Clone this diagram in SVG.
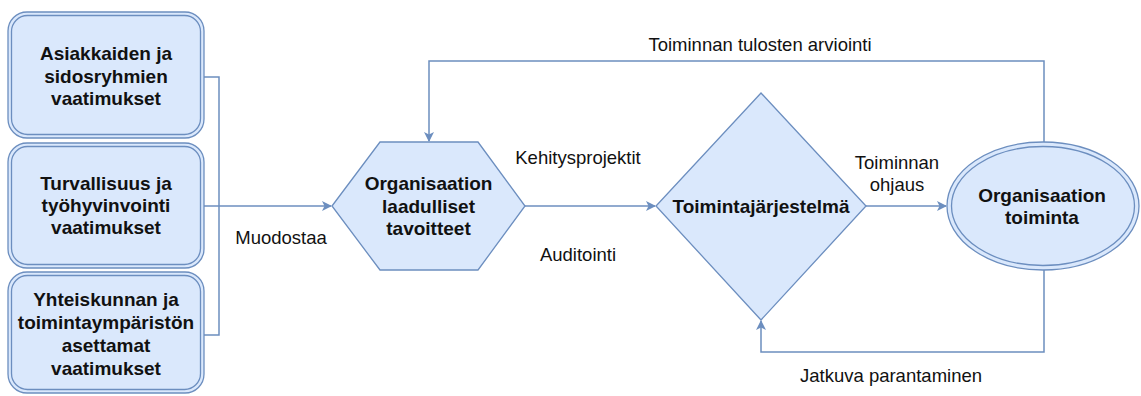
<svg xmlns="http://www.w3.org/2000/svg" width="1141" height="396" viewBox="0 0 1141 396">
  <defs>
    <marker id="arrow" viewBox="0 0 10 10" refX="9" refY="5" markerWidth="10" markerHeight="10" markerUnits="userSpaceOnUse" orient="auto">
      <path d="M0,0 L10,5 L0,10 L2.5,5 Z" fill="#6c8ebf"/>
    </marker>
  </defs>
  <style>
    .shape { fill: #dae8fc; stroke: #6c8ebf; stroke-width: 1.3; }
    .inner { fill: none; stroke: #6c8ebf; stroke-width: 1.3; }
    .edge { fill: none; stroke: #6c8ebf; stroke-width: 1.5; }
    .title { font-family: "Liberation Sans", Arial, sans-serif; font-size: 19px; font-weight: bold; fill: #111; text-anchor: middle; dominant-baseline: central; }
    .label { font-family: "Liberation Sans", Arial, sans-serif; font-size: 18.5px; fill: #111; text-anchor: middle; dominant-baseline: central; }
  </style>

  <rect width="1141" height="396" fill="#ffffff"/>

  <!-- connectors -->
  <g id="connectors">
    <polyline class="edge" points="204,77 219,77 219,335 204,335"/>
    <line class="edge" x1="204" y1="206" x2="219" y2="206"/>
    <line class="edge" x1="219" y1="206" x2="331" y2="206" marker-end="url(#arrow)"/>
    <line class="edge" x1="525" y1="206" x2="655" y2="206" marker-end="url(#arrow)"/>
    <line class="edge" x1="866" y1="206" x2="946" y2="206" marker-end="url(#arrow)"/>
    <polyline class="edge" points="1044,142 1044,61 429,61 429,141" marker-end="url(#arrow)"/>
    <polyline class="edge" points="1044,270 1044,352 761,352 761,321" marker-end="url(#arrow)"/>
  </g>

  <!-- connector labels -->
  <g id="edge-labels">
    <text class="label" x="281" y="237">Muodostaa</text>
    <text class="label" x="578" y="157">Kehitysprojektit</text>
    <text class="label" x="578" y="254">Auditointi</text>
    <text class="label" x="897" y="162">Toiminnan</text>
    <text class="label" x="897" y="184">ohjaus</text>
    <text class="label" x="760" y="44">Toiminnan tulosten arviointi</text>
    <text class="label" x="891" y="375">Jatkuva parantaminen</text>
  </g>

  <!-- requirement sources -->
  <g id="node-asiakkaat">
    <rect class="shape" x="8" y="12" width="196" height="126" rx="19"/>
    <rect class="inner" x="11.5" y="15.5" width="189" height="119" rx="16"/>
    <text class="title" x="106" y="53">Asiakkaiden ja</text>
    <text class="title" x="106" y="76">sidosryhmien</text>
    <text class="title" x="106" y="98">vaatimukset</text>
  </g>

  <g id="node-turvallisuus">
    <rect class="shape" x="8" y="143" width="196" height="125" rx="19"/>
    <rect class="inner" x="11.5" y="146.5" width="189" height="118" rx="16"/>
    <text class="title" x="106" y="183">Turvallisuus ja</text>
    <text class="title" x="106" y="205">työhyvinvointi</text>
    <text class="title" x="106" y="227">vaatimukset</text>
  </g>

  <g id="node-yhteiskunta">
    <rect class="shape" x="8" y="272" width="196" height="121" rx="19"/>
    <rect class="inner" x="11.5" y="275.5" width="189" height="114" rx="16"/>
    <text class="title" x="106" y="299">Yhteiskunnan ja</text>
    <text class="title" x="106" y="322">toimintaympäristön</text>
    <text class="title" x="106" y="345">asettamat</text>
    <text class="title" x="106" y="368">vaatimukset</text>
  </g>

  <!-- quality objectives -->
  <g id="node-tavoitteet">
    <polygon class="shape" points="332,206 380,142 478,142 525,206 478,270 380,270"/>
    <text class="title" x="428.5" y="183">Organisaation</text>
    <text class="title" x="428.5" y="206">laadulliset</text>
    <text class="title" x="428.5" y="228">tavoitteet</text>
  </g>

  <!-- management system -->
  <g id="node-jarjestelma">
    <polygon class="shape" points="761,93 866,206 761,320 656,206"/>
    <text class="title" x="761" y="206">Toimintajärjestelmä</text>
  </g>

  <!-- operations -->
  <g id="node-toiminta">
    <ellipse class="shape" cx="1043" cy="206" rx="96" ry="64"/>
    <ellipse class="inner" cx="1043" cy="206" rx="91.5" ry="59.5"/>
    <text class="title" x="1042" y="195">Organisaation</text>
    <text class="title" x="1042" y="217">toiminta</text>
  </g>
</svg>
